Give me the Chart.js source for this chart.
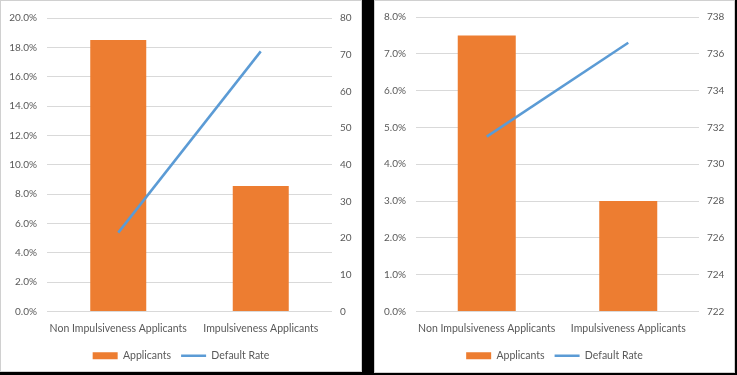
<!DOCTYPE html>
<html>
<head>
<meta charset="utf-8">
<script src="https://cdn.jsdelivr.net/npm/chart.js@4/dist/chart.umd.min.js"></script>
<style>
  html, body { margin: 0; padding: 0; background: #000; width: 737px; height: 375px; overflow: hidden; }
  .panel { position: absolute; background: #fff; border: 1px solid #d0d0d0; }
  #p1 { left: 0; top: 0; width: 360px; height: 370px; }
  #p2 { left: 374px; top: 0; width: 359px; height: 371px; }
  canvas { display: block; }
</style>
</head>
<body>
<div class="panel" id="p1"><canvas id="c1" width="360" height="370"></canvas></div>
<div class="panel" id="p2"><canvas id="c2" width="359" height="371"></canvas></div>
<script>
// ---- data ----
const categories = ['Non Impulsiveness Applicants', 'Impulsiveness Applicants'];
const seriesNames = ['Applicants', 'Default Rate'];

// left chart
const leftApplicants = [18.5, 8.55];      // percent
const leftDefaultRate = [21.5, 70.9];
const leftPctTicks = { min: 0, max: 20, step: 2 };
const leftRateTicks = { min: 0, max: 80, step: 10 };

// right chart
const rightApplicants = [7.5, 3.0];       // percent
const rightDefaultRate = [731.5, 736.6];
const rightPctTicks = { min: 0, max: 8, step: 1 };
const rightRateTicks = { min: 722, max: 738, step: 2 };

// ---- style ----
const ORANGE = '#ED7D31';
const BLUE = '#5B9BD5';
const GRID = '#d9d9d9';
const TEXT = '#595959';
const FONT = 'Lato, "Open Sans", sans-serif';

function build(id, bars, line, pctT, rateT, dims) {
  return new Chart(document.getElementById(id), {
    data: {
      labels: categories,
      datasets: [
        {
          type: 'bar', label: seriesNames[0], data: bars,
          backgroundColor: ORANGE, borderWidth: 0, yAxisID: 'y', order: 1,
          barPercentage: 1, categoryPercentage: dims.barFrac
        },
        {
          type: 'line', label: seriesNames[1], data: line,
          borderColor: BLUE, backgroundColor: BLUE, borderWidth: 2.5,
          pointRadius: 0, yAxisID: 'y1', order: 0, tension: 0
        }
      ]
    },
    options: {
      responsive: false,
      animation: false,
      devicePixelRatio: 1,
      layout: { padding: { top: dims.top, bottom: dims.bottom, left: 0, right: 0 } },
      plugins: {
        tooltip: { enabled: false },
        legend: {
          position: 'bottom',
          labels: {
            color: TEXT,
            font: { family: FONT, size: 10.5 },
            usePointStyle: true,
            pointStyleWidth: 25,
            boxHeight: 7,
            padding: 10,
            sort: (a, b) => a.datasetIndex - b.datasetIndex,
            generateLabels: (chart) => {
              const items = Chart.defaults.plugins.legend.labels.generateLabels(chart);
              items.forEach(it => {
                const ds = chart.data.datasets[it.datasetIndex];
                if (ds.type === 'bar') {
                  it.pointStyle = 'rect'; it.fillStyle = ORANGE; it.strokeStyle = ORANGE; it.lineWidth = 0;
                } else {
                  it.pointStyle = 'line'; it.strokeStyle = BLUE; it.lineWidth = 2.5;
                }
              });
              return items;
            }
          }
        }
      },
      scales: {
        x: {
          grid: { display: false, drawTicks: false },
          border: { display: false },
          ticks: { color: TEXT, font: { family: FONT, size: 10.5 }, padding: 11, maxRotation: 0, minRotation: 0, autoSkip: false },
          afterFit: (s) => { s.height = 29; }
        },
        y: {
          position: 'left',
          min: pctT.min, max: pctT.max,
          grid: { color: GRID, lineWidth: 1, drawTicks: false },
          border: { display: false },
          ticks: {
            stepSize: pctT.step, color: TEXT, font: { family: FONT, size: 10 }, padding: 10,
            callback: (v) => v.toFixed(1) + '%'
          },
          afterFit: (s) => { s.width = dims.leftW; }
        },
        y1: {
          position: 'right',
          min: rateT.min, max: rateT.max,
          grid: { display: false, drawOnChartArea: false, drawTicks: false },
          border: { display: false },
          ticks: { stepSize: rateT.step, color: TEXT, font: { family: FONT, size: 10 }, padding: 8 },
          afterFit: (s) => { s.width = dims.rightW; }
        }
      }
    }
  });
}

build('c1', leftApplicants, leftDefaultRate, leftPctTicks, leftRateTicks,
  { leftW: 46, rightW: 29, top: 17, bottom: 0, barFrac: 0.393 });
build('c2', rightApplicants, rightDefaultRate, rightPctTicks, rightRateTicks,
  { leftW: 41, rightW: 35, top: 15.5, bottom: 1, barFrac: 0.41 });
</script>
</body>
</html>
